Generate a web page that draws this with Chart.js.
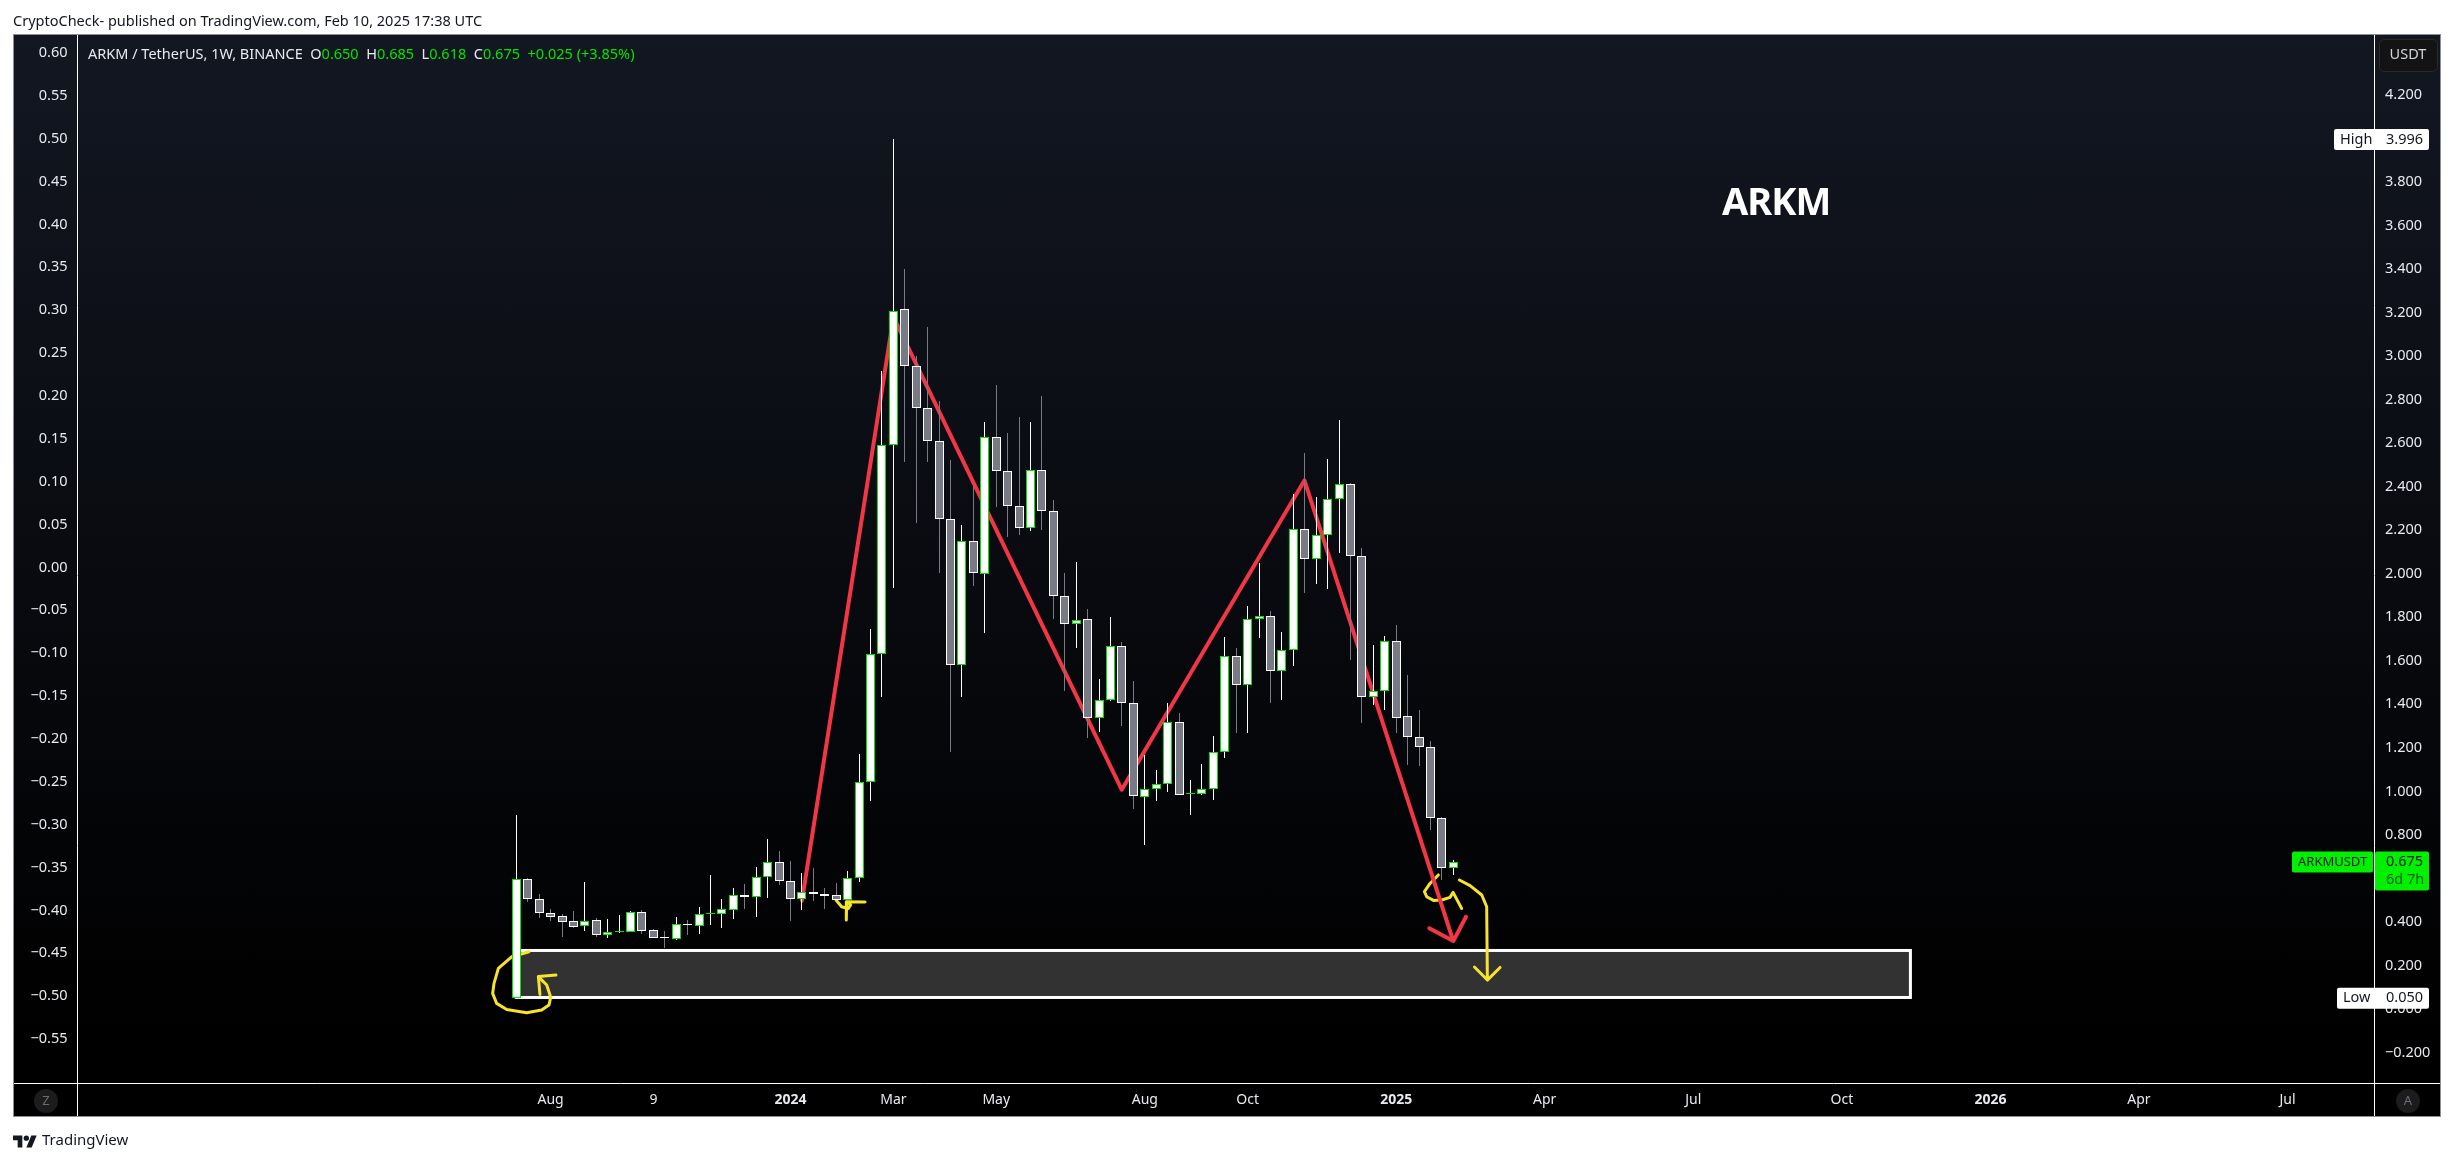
<!DOCTYPE html>
<html>
<head>
<meta charset="utf-8">
<title>ARKM / TetherUS</title>
<script src="https://cdn.jsdelivr.net/npm/chart.js@4/dist/chart.umd.min.js"></script>
<style>
    html, body { margin: 0; padding: 0; background: #fff; width: 2454px; height: 1162px; overflow: hidden; }
    body { font-family: "Noto Sans", sans-serif; position: relative; }
    #pane {
        position: absolute; left: 13px; top: 34px; width: 2428px; height: 1083px; box-sizing: border-box;
        border: 1px solid #8b8e97; background: linear-gradient(#131722 0%, #000 92%);
    }
    canvas { position: absolute; left: 0; top: 0; }
    .txt { position: absolute; white-space: pre; line-height: 1; }
    #published { left: 13px; top: 13px; font-size: 14.5px; color: #131722; }
    #legend { left: 88px; top: 46px; font-size: 14.5px; color: #e8eaf0; }
    #legend b { font-weight: normal; color: #00e600; }
    #watermark { left: 1722px; top: 181px; font-size: 38px; font-weight: bold; color: #fff; letter-spacing: -1px; }
    #brand { left: 42px; top: 1132px; font-size: 15px; color: #131722; }
    #logo { position: absolute; left: 13px; top: 1134px; }
</style>
</head>
<body>
<div id="pane"></div>
<canvas id="chart" width="2454" height="1162"></canvas>
<div class="txt" id="published">CryptoCheck- published on TradingView.com, Feb 10, 2025 17:38 UTC</div>
<div class="txt" id="legend">ARKM / TetherUS, 1W, BINANCE  O<b>0.650</b>  H<b>0.685</b>  L<b>0.618</b>  C<b>0.675</b>  <b>+0.025 (+3.85%)</b></div>
<div class="txt" id="watermark">ARKM</div>
<svg id="logo" width="24" height="15" viewBox="0 3 36 20"><path fill="#131722" d="M14 22H7V11H0V4h14v18zM28 22h-8l7.5-18h8L28 22z"/><circle fill="#131722" cx="20" cy="8" r="4"/></svg>
<div class="txt" id="brand">TradingView</div>

<script>
// Weekly candles, one entry per week from Jul 2023 to Feb 2025
const opens = [0.050,0.596,0.504,0.443,0.426,0.403,0.380,0.407,0.341,0.355,0.355,0.444,0.361,0.329,0.323,0.389,0.383,0.438,0.438,0.456,0.522,0.516,0.605,0.674,0.587,0.507,0.536,0.527,0.522,0.502,0.600,
    1.045,1.633,2.593,3.215,2.956,2.763,2.612,2.253,1.582,2.152,2.000,2.630,2.470,2.312,2.212,2.478,2.290,1.896,1.767,1.793,1.338,1.422,1.670,1.408,
    0.976,1.012,1.036,1.321,0.990,0.990,1.009,1.179,1.624,1.490,1.790,1.808,1.555,1.648,2.207,2.069,2.180,2.342,2.411,2.082,1.432,1.459,1.690,1.345,1.252,1.205,0.876,0.650];
const closes = [0.596,0.504,0.443,0.424,0.401,0.378,0.406,0.341,0.355,0.357,0.444,0.360,0.328,0.325,0.389,0.384,0.435,0.440,0.458,0.522,0.516,0.605,0.674,0.587,0.507,0.536,0.527,0.521,0.502,0.600,1.045,
    1.633,2.593,3.208,2.956,2.763,2.612,2.253,1.582,2.152,2.005,2.630,2.470,2.312,2.212,2.478,2.290,1.896,1.767,1.789,1.338,1.422,1.666,1.408,0.977,
    1.009,1.036,1.321,0.985,0.992,1.009,1.179,1.624,1.490,1.790,1.808,1.555,1.648,2.207,2.069,2.180,2.342,2.411,2.082,1.432,1.459,1.690,1.339,1.252,1.205,0.876,0.649,0.675];
const highs = [0.891,0.602,0.527,0.459,0.435,0.450,0.583,0.418,0.413,0.432,0.450,0.455,0.368,0.358,0.423,0.409,0.469,0.616,0.505,0.556,0.574,0.652,0.781,0.726,0.680,0.625,0.648,0.556,0.579,0.634,1.172,
    1.746,2.932,3.996,3.399,2.999,3.133,2.794,2.521,2.224,2.402,2.698,2.866,2.646,2.720,2.698,2.817,2.339,2.002,2.054,1.838,1.516,1.801,1.687,1.506,
    1.167,1.098,1.408,1.359,1.054,1.125,1.254,1.708,1.659,1.851,2.049,1.828,1.731,2.365,2.554,2.353,2.527,2.705,2.416,2.118,1.672,1.713,1.764,1.535,1.374,1.232,0.881,0.685];
const lows = [0.049,0.493,0.420,0.406,0.332,0.374,0.358,0.332,0.328,0.351,0.355,0.346,0.328,0.282,0.317,0.340,0.346,0.386,0.374,0.415,0.461,0.424,0.511,0.571,0.406,0.456,0.496,0.461,0.501,0.501,0.585,
    0.957,1.434,1.935,2.513,2.232,2.513,2.002,1.180,1.434,1.943,1.730,2.306,2.169,2.177,2.195,2.201,1.791,1.463,1.658,1.246,1.272,1.416,1.301,0.920,
    0.754,0.956,0.998,0.985,0.890,0.985,0.961,1.154,1.270,1.270,1.706,1.406,1.419,1.577,1.911,1.955,1.930,2.097,1.604,1.314,1.399,1.375,1.270,1.123,1.118,0.823,0.593,0.618];

// Axis ticks
const leftTicks = [0.60,0.55,0.50,0.45,0.40,0.35,0.30,0.25,0.20,0.15,0.10,0.05,0.00,-0.05,-0.10,-0.15,-0.20,-0.25,-0.30,-0.35,-0.40,-0.45,-0.50,-0.55];
const rightTicks = [4.2,4.0,3.8,3.6,3.4,3.2,3.0,2.8,2.6,2.4,2.2,2.0,1.8,1.6,1.4,1.2,1.0,0.8,0.6,0.4,0.2,0.0,-0.2];
const timeTickWeeks = [3,12,24,33,42,55,64,77,90,103,116,129,142,155];
const timeTickLabels = ['Aug','9','2024','Mar','May','Aug','Oct','2025','Apr','Jul','Oct','2026','Apr','Jul'];
const yearLabels = ['2024','2025','2026'];

// Price labels on the right axis
const highPrice = 3.996;
const lowPrice = 0.050;
const lastPrice = 0.675;

// Support zone drawn on the chart
const zoneWeeks = [0, 122];
const zonePrices = [0.053, 0.269];

// Hand drawn lines, x in weeks from the first candle, y in price
const redWeeks = [25,33,52.98,68.97,82,79.9,82,83.11];
const redPrices = [0.498,3.18,1.008,2.429,0.312,0.371,0.312,0.424];
const loopWeeks = [1.11,-0.41,-1.57,-1.95,-2.07,-1.72,-0.84,0.91,2.22,2.86,3.01,2.66,1.93,3.47,1.93,2.07];
const loopPrices = [0.263,0.240,0.187,0.118,0.072,0.026,-0.002,-0.017,-0.005,0.018,0.054,0.110,0.149,0.156,0.149,0.067];
const hookWeeks = [27.98,28.47,29.06,29.26,28.91,30.52,28.91,28.88];
const hookPrices = [0.501,0.470,0.462,0.478,0.493,0.492,0.493,0.409];
const curlWeeks = [80.69,79.96,79.47,79.67,80.26,80.99,81.71,81.98,82.73];
const curlPrices = [0.616,0.577,0.539,0.516,0.499,0.501,0.513,0.536,0.462];
const dropWeeks = [82.53,83.47,84.49,84.92,84.98,83.85,84.98,86.09];
const dropPrices = [0.593,0.567,0.524,0.470,0.133,0.193,0.133,0.191];

const GREEN = '#00e600';
const GREY = '#787b86';
const FONT = '"Noto Sans", sans-serif';

const isUp = i => closes[i] >= opens[i];
const toPoints = (xs, ys) => xs.map((x, i) => ({ x: x, y: ys[i] }));

function drawingLine(xs, ys, color, width, label) {
    return {
        type: 'line',
        label: label,
        data: toPoints(xs, ys),
        borderColor: color,
        borderWidth: width,
        borderJoinStyle: 'round',
        borderCapStyle: 'round',
        pointRadius: 0,
        tension: 0,
        order: 3
    };
}

// Zone sits behind everything else
const zonePlugin = {
    id: 'zone',
    beforeDatasetsDraw(chart) {
        const { ctx, scales } = chart;
        const left = scales.x.getPixelForValue(zoneWeeks[0]);
        const right = scales.x.getPixelForValue(zoneWeeks[1]);
        const top = scales.y.getPixelForValue(zonePrices[1]);
        const bottom = scales.y.getPixelForValue(zonePrices[0]);
        ctx.save();
        ctx.fillStyle = '#323232';
        ctx.fillRect(left, top, right - left, bottom - top);
        ctx.strokeStyle = '#fff';
        ctx.lineWidth = 3;
        ctx.strokeRect(left, top, right - left, bottom - top);
        ctx.restore();
    }
};

// Keep candle edges on whole pixels so the 1px borders stay sharp
const snapPlugin = {
    id: 'snap',
    afterDatasetsUpdate(chart) {
        chart.data.datasets.forEach((ds, i) => {
            if (ds.type !== 'bar') return;
            chart.getDatasetMeta(i).data.forEach(bar => {
                bar.x = Math.round(bar.x - 0.5) + 0.5;
                const top = Math.round(Math.min(bar.y, bar.base));
                let bottom = Math.round(Math.max(bar.y, bar.base));
                if (bottom === top) bottom = top + 1;
                bar.y = top;
                bar.base = bottom;
            });
        });
    }
};

function priceBox(ctx, x, y, w, h, color) {
    ctx.fillStyle = color;
    ctx.beginPath();
    ctx.roundRect(x, y, w, h, 2);
    ctx.fill();
}

function boxText(ctx, text, x, y, color) {
    ctx.fillStyle = color;
    ctx.fillText(text, x, y);
}

const labelsPlugin = {
    id: 'priceLabels',
    afterDraw(chart) {
        const { ctx, scales, chartArea } = chart;
        ctx.save();

        // Axis dividers run right across the pane
        ctx.strokeStyle = '#fff';
        ctx.lineWidth = 1;
        ctx.beginPath();
        ctx.moveTo(14, Math.round(chartArea.bottom) + 0.5);
        ctx.lineTo(2440, Math.round(chartArea.bottom) + 0.5);
        [chartArea.left, chartArea.right].forEach(x => {
            ctx.moveTo(Math.floor(x) + 0.5, 35);
            ctx.lineTo(Math.floor(x) + 0.5, 1116);
        });
        ctx.stroke();

        ctx.font = '14.5px ' + FONT;
        ctx.textBaseline = 'middle';
        ctx.textAlign = 'left';

        let y = scales.y.getPixelForValue(highPrice);
        priceBox(ctx, 2334, y - 10.5, 95, 21, '#fff');
        boxText(ctx, 'High', 2340, y, '#131722');
        boxText(ctx, highPrice.toFixed(3), 2386, y, '#131722');

        y = scales.y.getPixelForValue(lowPrice);
        priceBox(ctx, 2337, y - 10.5, 92, 21, '#fff');
        boxText(ctx, 'Low', 2343, y, '#131722');
        boxText(ctx, lowPrice.toFixed(3), 2386, y, '#131722');

        y = scales.y.getPixelForValue(lastPrice);
        priceBox(ctx, 2292, y - 10.5, 81, 21, '#00f000');
        priceBox(ctx, 2375, y - 10.5, 54, 39, '#00f000');
        boxText(ctx, lastPrice.toFixed(3), 2386, y, '#0a1a0a');
        boxText(ctx, '6d 7h', 2386, y + 18, '#0a5c14');
        ctx.font = '13px ' + FONT;
        boxText(ctx, 'ARKMUSDT', 2298, y, '#0a1a0a');
        ctx.font = '14.5px ' + FONT;

        // USDT button and the two small circle buttons
        ctx.fillStyle = '#131313';
        ctx.strokeStyle = '#2a2a2a';
        ctx.lineWidth = 1;
        ctx.beginPath();
        ctx.roundRect(2379.5, 39.5, 58, 32, 5);
        ctx.fill();
        ctx.stroke();
        ctx.textAlign = 'center';
        boxText(ctx, 'USDT', 2408, 55, '#d1d4dc');

        ctx.font = '13px ' + FONT;
        [['Z', 46], ['A', 2408]].forEach(b => {
            ctx.fillStyle = '#1c1c1c';
            ctx.beginPath();
            ctx.arc(b[1], 1101, 12, 0, Math.PI * 2);
            ctx.fill();
            boxText(ctx, b[0], b[1], 1101, '#6a6d78');
        });
        ctx.restore();
    }
};

new Chart(document.getElementById('chart'), {
    data: {
        datasets: [
            {
                type: 'bar',
                label: 'Body',
                data: opens.map((o, i) => ({ x: i, y: [o, closes[i]] })),
                backgroundColor: opens.map((o, i) => isUp(i) ? '#ffffff' : GREY),
                borderColor: opens.map((o, i) => isUp(i) ? GREEN : '#ffffff'),
                borderWidth: 1,
                borderSkipped: false,
                inflateAmount: 0,
                barThickness: 9,
                grouped: false,
                order: 1
            },
            {
                type: 'bar',
                label: 'Wick',
                data: lows.map((l, i) => ({ x: i, y: [l, highs[i]] })),
                backgroundColor: lows.map((l, i) => isUp(i) ? '#ffffff' : GREY),
                borderWidth: 0,
                inflateAmount: 0,
                barThickness: 1,
                grouped: false,
                order: 2
            },
            drawingLine(redWeeks, redPrices, '#f23645', 4, 'Pattern'),
            drawingLine(loopWeeks, loopPrices, '#f7e22c', 3, 'Loop'),
            drawingLine(hookWeeks, hookPrices, '#f7e22c', 3, 'Hook'),
            drawingLine(curlWeeks, curlPrices, '#f7e22c', 3, 'Curl'),
            drawingLine(dropWeeks, dropPrices, '#f7e22c', 3, 'Drop')
        ]
    },
    options: {
        responsive: false,
        animation: false,
        events: [],
        layout: { padding: { left: 13, top: 34.5, right: 13, bottom: 45 } },
        plugins: { legend: { display: false }, tooltip: { enabled: false } },
        scales: {
            x: {
                type: 'linear',
                offset: false,
                min: -38.4,
                max: 162.57,
                afterBuildTicks: scale => { scale.ticks = timeTickWeeks.map(v => ({ value: v })); },
                afterFit: scale => { scale.height = 34; },
                grid: { display: false, drawTicks: false },
                border: { display: false },
                ticks: {
                    autoSkip: false,
                    maxRotation: 0,
                    padding: 9,
                    color: '#e8eaf0',
                    font: ctx => ({
                        family: FONT,
                        size: 14,
                        weight: ctx.tick && yearLabels.includes(timeTickLabels[timeTickWeeks.indexOf(ctx.tick.value)]) ? 'bold' : 'normal'
                    }),
                    callback: v => timeTickLabels[timeTickWeeks.indexOf(v)]
                }
            },
            y: {
                type: 'linear',
                position: 'right',
                min: -0.340,
                max: 4.478,
                afterBuildTicks: scale => { scale.ticks = rightTicks.map(v => ({ value: v })); },
                afterFit: scale => { scale.width = 67; },
                grid: { display: false, drawTicks: false },
                border: { display: false },
                ticks: {
                    autoSkip: false,
                    padding: 11,
                    color: '#e8eaf0',
                    font: { family: FONT, size: 14.5 },
                    callback: v => (v < 0 ? '\u2212' : '') + Math.abs(v).toFixed(3)
                }
            },
            yLeft: {
                type: 'linear',
                position: 'left',
                min: -0.6013,
                max: 0.6216,
                afterBuildTicks: scale => { scale.ticks = leftTicks.map(v => ({ value: v })); },
                afterFit: scale => { scale.width = 64.5; },
                grid: { display: false, drawTicks: false },
                border: { display: false },
                ticks: {
                    autoSkip: false,
                    padding: 10,
                    color: '#e8eaf0',
                    font: { family: FONT, size: 14.5 },
                    callback: v => (v < 0 ? '\u2212' : '') + Math.abs(v).toFixed(2)
                }
            }
        }
    },
    plugins: [zonePlugin, snapPlugin, labelsPlugin]
});
</script>
</body>
</html>
